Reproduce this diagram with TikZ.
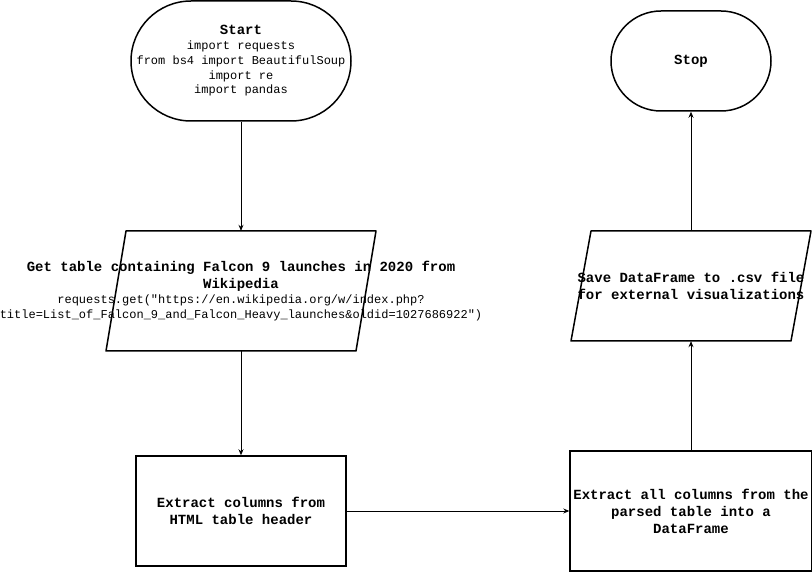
\documentclass[tikz,border=0pt]{standalone}
\usepackage{fontspec}
\setmainfont{Liberation Mono}
\usetikzlibrary{arrows.meta,positioning}
\newcommand{\codeline}[1]{{\fontsize{12}{14.75}\selectfont\mdseries #1}}
\tikzset{%
	terminal/.style = {draw, rectangle, line width=1.5pt, align=center, font=\fontsize{14}{17}\selectfont\bfseries},
	io/.style       = {rectangle, inner sep=0pt, align=center, font=\fontsize{14}{17}\selectfont\bfseries},
	process/.style  = {draw, rectangle, line width=1.5pt, align=center, font=\fontsize{14}{17}\selectfont\bfseries},
	codelines/.style = {font=\fontsize{14}{14.75}\selectfont\bfseries},
	outline/.style  = {line width=1.5pt, line join=round},
	arrow/.style    = {line width=0.8pt, -{Stealth[length=6pt,width=5pt,inset=2pt]}},
}
\begin{document}
\begin{tikzpicture}[x=1pt,y=1pt,node distance=230pt]
	\useasboundingbox (0,0) rectangle (812,-572);
	\node [terminal,codelines,rounded corners=60pt,minimum width=220pt,minimum height=120pt] (start) at (241,-61) {Start\\\codeline{import requests}\\\codeline{from bs4 import BeautifulSoup}\\\codeline{import re}\\\codeline{import pandas}};
	\node [io,codelines,minimum height=120pt] (gettable) [below of=start] {Get table containing Falcon 9 launches in 2020 from\\[2pt]Wikipedia\\\codeline{requests.get(\textquotedbl https://en.wikipedia.org/w/index.php?}\\\codeline{title=List\_of\_Falcon\_9\_and\_Falcon\_Heavy\_launches\&oldid=1027686922\textquotedbl)}};
	\node [process,minimum width=210pt,minimum height=110pt] (header) [below of=gettable,node distance=220pt] {Extract columns from\\HTML table header};
	\node [process,minimum width=240pt,minimum height=120pt] (columns) [right of=header,node distance=450pt] {Extract all columns from the\\parsed table into a\\DataFrame};
	\node [io,minimum height=110pt] (savecsv) [above of=columns,node distance=225pt] {Save DataFrame to .csv file\\for external visualizations};
	\node [terminal,rounded corners=50pt,minimum width=160pt,minimum height=100pt] (stop) [above of=savecsv,node distance=225pt] {Stop};

	% parallelograms round the two input/output nodes
	\draw [outline] (gettable.center) ++(-115,60) -- ++(250,0) -- ++(-20,-120) -- ++(-250,0) -- cycle;
	\draw [outline] (savecsv.center) ++(-100,55) -- ++(220,0) -- ++(-20,-110) -- ++(-220,0) -- cycle;

	\draw [arrow] (start) -- (gettable);
	\draw [arrow] (gettable) -- (header);
	\draw [arrow] (header) -- (columns);
	\draw [arrow] (columns) -- (savecsv);
	\draw [arrow] (savecsv) -- (stop);
\end{tikzpicture}
\end{document}
